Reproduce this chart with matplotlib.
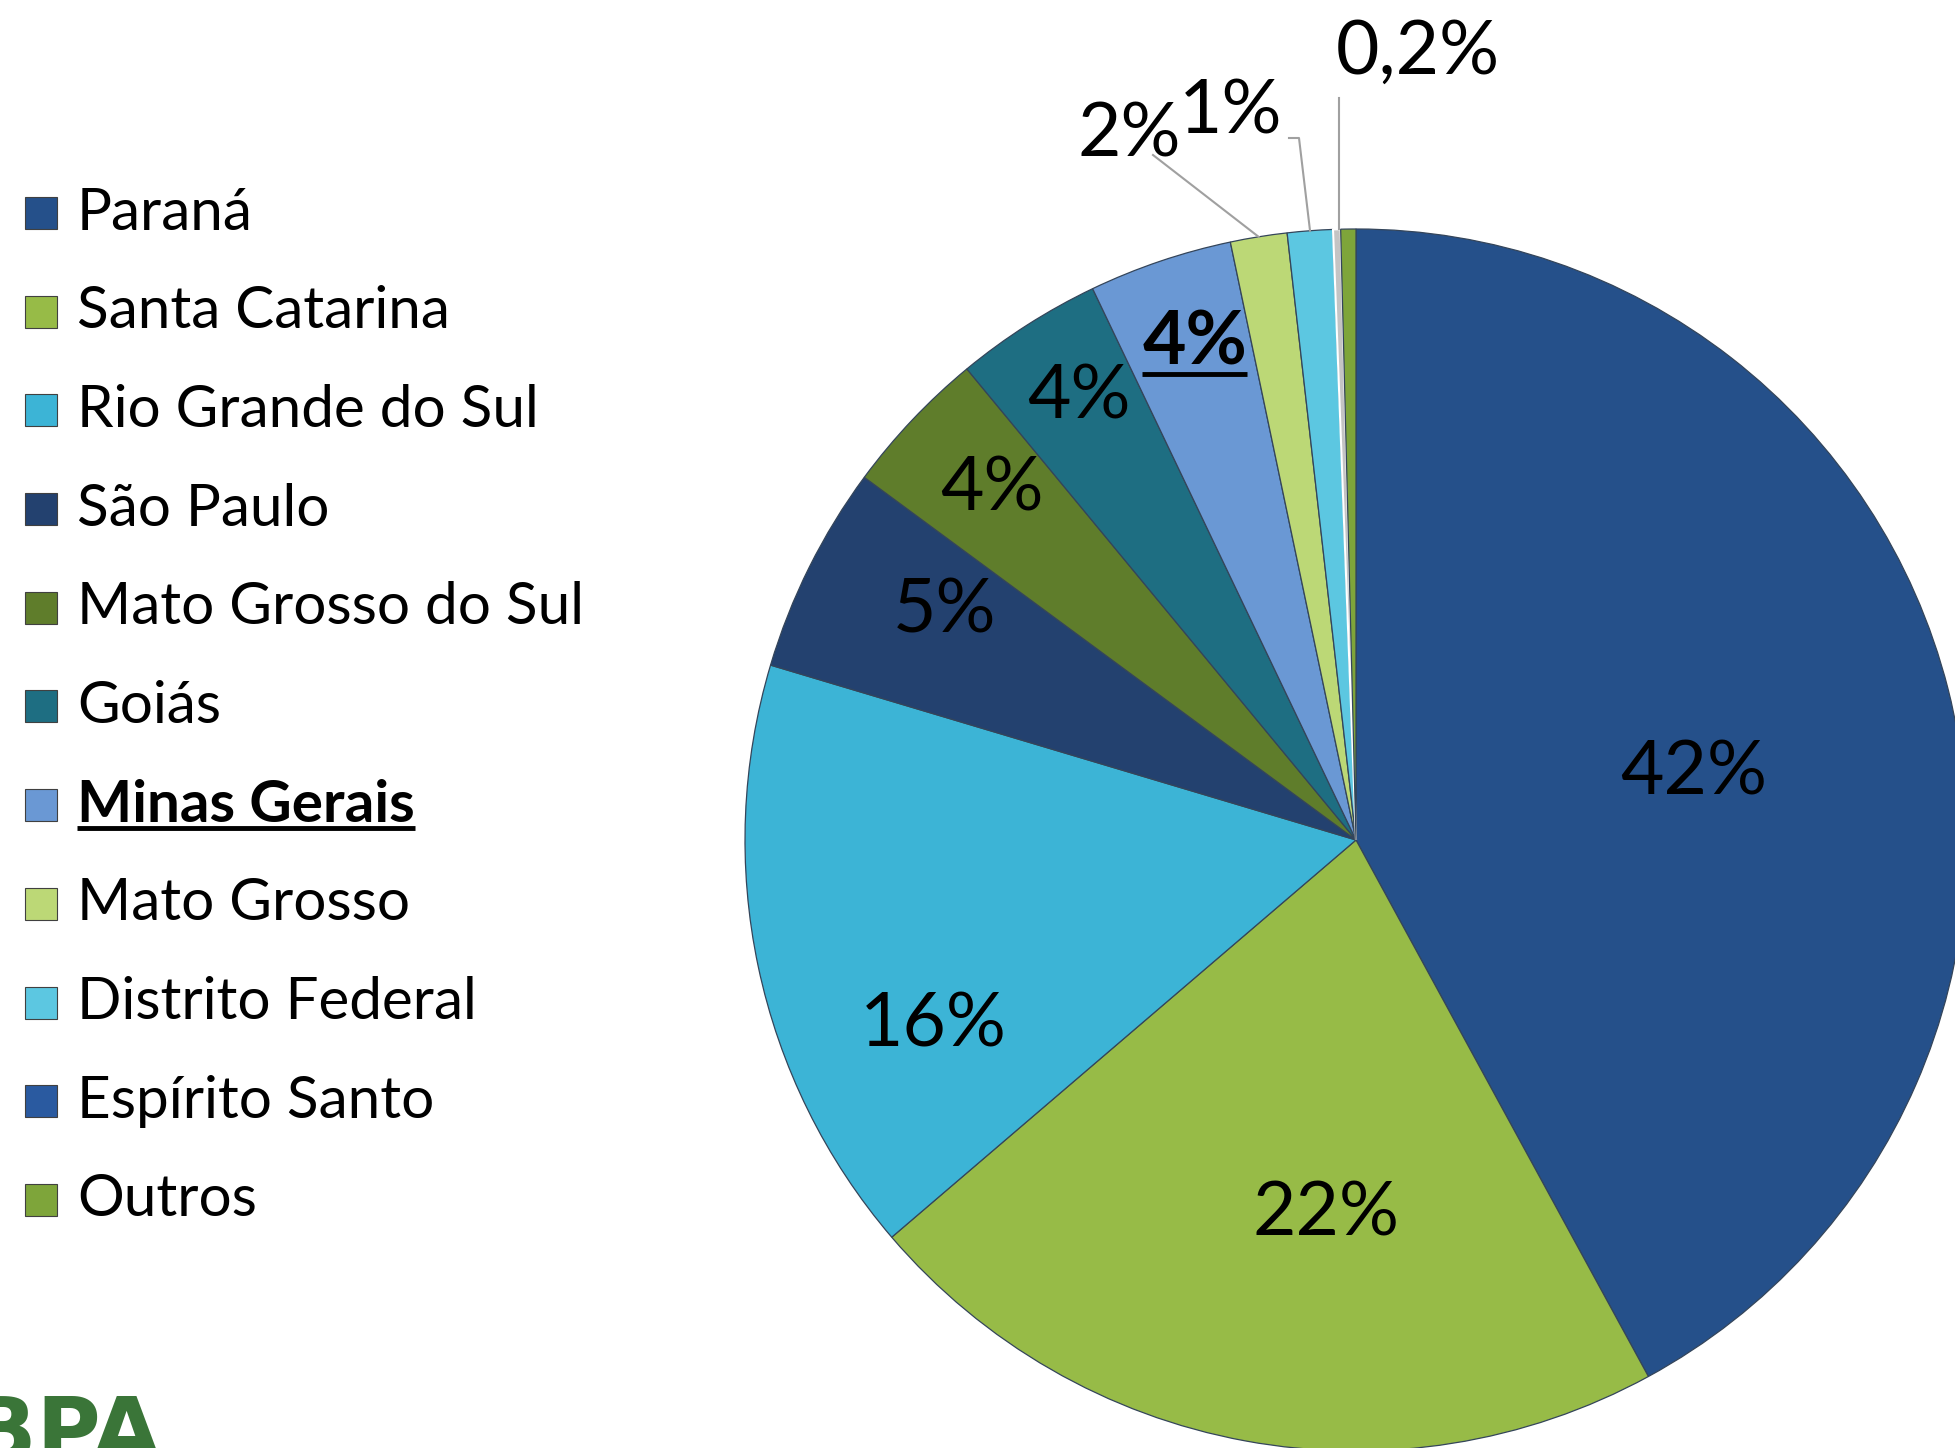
import matplotlib
matplotlib.use("Agg")
import matplotlib.pyplot as plt
from matplotlib.patches import Rectangle
import numpy as np

# ---- data ----
categories = ["Paraná", "Santa Catarina", "Rio Grande do Sul", "São Paulo",
              "Mato Grosso do Sul", "Goiás", "Minas Gerais", "Mato Grosso",
              "Distrito Federal", "Espírito Santo", "Outros"]
shares = [42.1, 21.7, 15.9, 5.5, 3.9, 3.9, 3.8, 1.5, 1.2, 0.2, 0.4]
value_labels = ["42%", "22%", "16%", "5%", "4%", "4%", "4%", "2%", "1%", "0,2%", ""]

# ---- style ----
slice_colors = ["#25508a", "#97bb47", "#3cb4d6", "#23416f", "#5f7d2b", "#1e6e82",
                "#6a98d4", "#bcd876", "#5cc7e1", "#c4c4c4", "#7ea53a"]
legend_colors = ["#25508a", "#97bb47", "#3cb4d6", "#23416f", "#5f7d2b", "#1e6e82",
                 "#6a98d4", "#bcd876", "#5cc7e1", "#2a5aa0", "#7ea53a"]
FONT = "Lato"
W, H = 1956, 1448

fig = plt.figure(figsize=(W / 100, H / 100), dpi=100)
ax = fig.add_axes([0, 0, 1, 1])

cx, cy, R = 1356, H - 840, 611
wedges, _ = ax.pie(shares, colors=slice_colors, startangle=90, counterclock=False,
                   center=(cx, cy), radius=R,
                   wedgeprops=dict(edgecolor="#34455a", linewidth=0.9))
wedges[9].set_edgecolor("white")
wedges[9].set_linewidth(1.5)
ax.set_xlim(0, W)
ax.set_ylim(0, H)
ax.set_aspect("equal")
ax.axis("off")

# inside label placement (layout: offset from pie centre, as fraction of radius)
inside_off = {0: (0.553, 0.110), 1: (-0.049, -0.612), 2: (-0.692, -0.303),
              3: (-0.674, 0.375), 4: (-0.596, 0.574), 5: (-0.453, 0.725),
              6: (-0.264, 0.813)}
texts = {}
for i, (fx, fy) in inside_off.items():
    bold = (i == 6)
    texts[i] = ax.text(cx + fx * R, cy + fy * R, value_labels[i],
                       ha="center", va="center", fontsize=54, family=FONT,
                       fontweight="bold" if bold else "normal", color="black")

# outside labels with leader lines (layout, pixels)
outside = {7: (1129, H - 135, 1153, H - 155),
           8: (1231, H - 112, 1289, H - 138),
           9: (1418, H - 52, 1339, H - 98)}
for i, (tx, ty, lx, ly) in outside.items():
    w = wedges[i]
    ang = np.deg2rad((w.theta1 + w.theta2) / 2)
    ex = cx + R * np.cos(ang)
    ey = cy + R * np.sin(ang)
    ax.text(tx, ty, value_labels[i], ha="center", va="center", fontsize=54,
            family=FONT, color="black")
    if i == 8:
        ax.plot([lx, lx + 10, ex], [ly, ly, ey], color="#a0a0a0", lw=1.5)
    elif i == 9:
        ax.plot([lx, lx], [ly, ey], color="#a0a0a0", lw=1.5)
    else:
        ax.plot([lx, ex], [ly, ey], color="#a0a0a0", lw=1.5)

# legend (manual)
y0, dy = 213, 98.7
for k, (name, col) in enumerate(zip(categories, legend_colors)):
    yc = H - (y0 + k * dy)
    ax.add_patch(Rectangle((25, yc - 16), 32, 32, facecolor=col,
                           edgecolor="#404040", lw=0.8))
    bold = (name == "Minas Gerais")
    t = ax.text(77, yc, name, ha="left", va="center", fontsize=42, family=FONT,
                fontweight="bold" if bold else "normal", color="black")
    if bold:
        texts["legend_mg"] = t

# underline bold items
fig.canvas.draw()
renderer = fig.canvas.get_renderer()
inv = ax.transData.inverted()
for key in (6, "legend_mg"):
    t = texts[key]
    bb = t.get_window_extent(renderer)
    (x0, yb), (x1, _) = inv.transform([[bb.x0, bb.y0], [bb.x1, bb.y1]])
    ax.plot([x0, x1], [yb + 4, yb + 4], color="black", lw=3.5,
            solid_capstyle="butt")

# logo fragment
ax.text(-30, -30, "BPA", ha="left", va="bottom", fontsize=63, family="DejaVu Sans",
        fontweight="bold", color="#3a7538")

fig.savefig("out.png", dpi=100)
